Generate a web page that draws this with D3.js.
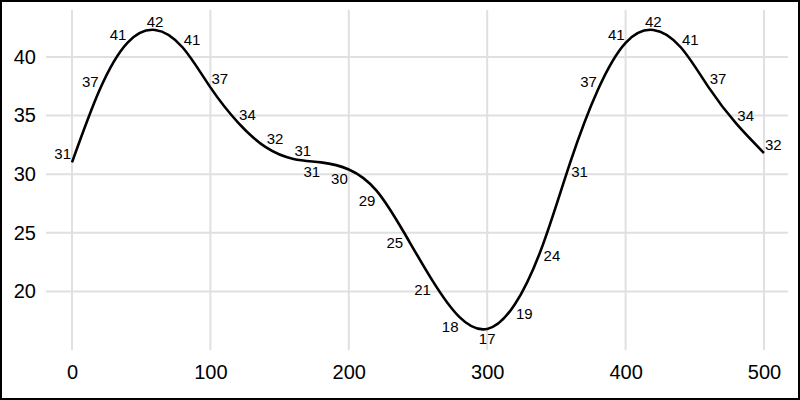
<!DOCTYPE html>
<html>
<head>
<meta charset="utf-8">
<script src="https://cdn.jsdelivr.net/npm/d3@7"></script>
<style>
  body { margin: 0; background: #fff; }
  svg { display: block; font-family: "Liberation Sans", Arial, sans-serif; }
</style>
</head>
<body>
<svg id="chart" width="800" height="400"></svg>
<script>
// data (labels show them rounded)
var xValues = [0, 20, 40, 60, 80, 100, 120, 140, 160, 180, 200, 220, 240,
               260, 280, 300, 320, 340, 360, 380, 400, 420, 440, 460, 480, 500];
var yValues = [31.0, 37.2, 41.2, 42.3, 40.8, 37.4, 34.4, 32.3, 31.3, 31.0, 30.4, 28.6, 25.0,
               21.0, 17.8, 16.8, 18.9, 23.9, 31.0, 37.2, 41.2, 42.3, 40.8, 37.4, 34.3, 31.8];
var xTicks = [0, 100, 200, 300, 400, 500];
var yTicks = [20, 25, 30, 35, 40];

var width = 800, height = 400;
var plot = {left: 46, right: 788, top: 10, bottom: 350};
var labelSplit = 31; // labels go above the line where it sits over this level

var svg = d3.select("#chart");

svg.append("rect")
    .attr("x", 1).attr("y", 1)
    .attr("width", width - 2).attr("height", height - 2)
    .attr("fill", "#fff")
    .attr("stroke", "#000")
    .attr("stroke-width", 2);

var x = d3.scaleLinear().domain([0, 500]).range([72, 764]);
var y = d3.scaleLinear().domain([15, 44]).range([plot.bottom, plot.top]);
var fmt = d3.format(".0f");

var points = xValues.map(function(d, i) { return {x: d, y: yValues[i]}; });

// grid
svg.append("g")
    .selectAll("line")
    .data(xTicks)
    .enter().append("line")
    .attr("x1", function(d) { return x(d); })
    .attr("x2", function(d) { return x(d); })
    .attr("y1", plot.top)
    .attr("y2", plot.bottom)
    .attr("stroke", "#e0e0e0")
    .attr("stroke-width", 2);

svg.append("g")
    .selectAll("line")
    .data(yTicks)
    .enter().append("line")
    .attr("x1", plot.left)
    .attr("x2", plot.right)
    .attr("y1", function(d) { return y(d); })
    .attr("y2", function(d) { return y(d); })
    .attr("stroke", "#e0e0e0")
    .attr("stroke-width", 2);

// axes (labels only)
var xAxis = svg.append("g")
    .attr("transform", "translate(0," + 360 + ")")
    .call(d3.axisBottom(x).tickValues(xTicks).tickSize(0).tickPadding(5));
var yAxis = svg.append("g")
    .attr("transform", "translate(" + 38 + ",0)")
    .call(d3.axisLeft(y).tickValues(yTicks).tickSize(0).tickPadding(2));

[xAxis, yAxis].forEach(function(a) {
  a.select(".domain").remove();
  a.selectAll("text")
      .attr("fill", "#000")
      .style("font-size", "20px")
      .style("font-family", "Liberation Sans, Arial, sans-serif");
});

// line
var line = d3.line()
    .x(function(d) { return x(d.x); })
    .y(function(d) { return y(d.y); })
    .curve(d3.curveNatural);

svg.append("path")
    .datum(points)
    .attr("fill", "none")
    .attr("stroke", "#000")
    .attr("stroke-width", 2.6)
    .attr("d", line);

// point labels: outside the line, on the side away from its direction
function placement(i) {
  var v = yValues[i];
  var prev = i > 0 ? yValues[i - 1] : null;
  var next = i < yValues.length - 1 ? yValues[i + 1] : null;
  var near = [v];
  if (prev !== null) near.push(prev);
  if (next !== null) near.push(next);
  var above = d3.mean(near) > labelSplit;
  var isMax = prev !== null && next !== null && v > prev && v > next;
  var isMin = prev !== null && next !== null && v < prev && v < next;
  var rising = (next !== null ? next : v) - (prev !== null ? prev : v) > 0;
  var anchor;
  if (isMax || isMin) anchor = "middle";
  else if (above) anchor = rising ? "end" : "start";
  else anchor = rising ? "start" : "end";
  var dx = anchor == "end" ? -1 : anchor == "start" ? 1 : 0;
  var dy = above ? -3 : 15;
  return {anchor: anchor, dx: dx, dy: dy};
}

svg.append("g")
    .selectAll("text")
    .data(points)
    .enter().append("text")
    .attr("x", function(d, i) { return x(d.x) + placement(i).dx; })
    .attr("y", function(d, i) { return y(d.y) + placement(i).dy; })
    .attr("text-anchor", function(d, i) { return placement(i).anchor; })
    .style("font-size", "15px")
    .attr("fill", "#000")
    .text(function(d) { return fmt(d.y); });
</script>
</body>
</html>
